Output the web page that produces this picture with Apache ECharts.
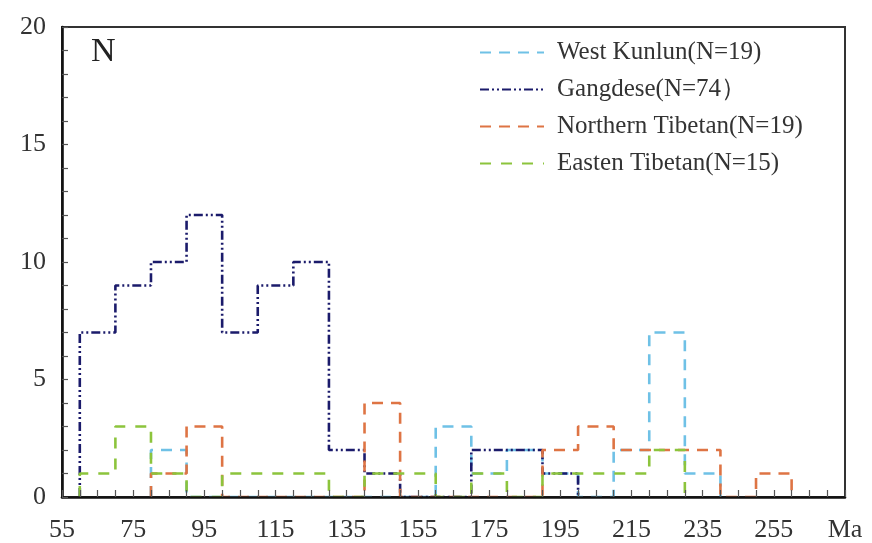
<!DOCTYPE html>
<html>
<head>
<meta charset="utf-8">
<script src="https://cdn.jsdelivr.net/npm/echarts@6/dist/echarts.min.js"></script>
<style>
  html, body { margin: 0; padding: 0; background: #fff; }
  #chart { width: 872px; height: 543px; }
</style>
</head>
<body>
<div id="chart"></div>
<script>
// bin starts (Ma), each bin is 10 Ma wide
const binStarts = [60, 70, 80, 90, 100, 110, 120, 130, 140, 150, 160, 170, 180, 190, 200, 210, 220, 230, 240, 250, 260];
const binWidth = 10;

const westKunlun     = [0, 0, 2, 0, 0, 0, 0, 0, 0, 0, 3, 1, 2, 1, 0, 2, 7, 1, 0, 0, 0];
const gangdese       = [7, 9, 10, 12, 7, 9, 10, 2, 1, 0, 0, 2, 2, 1, 0, 0, 0, 0, 0, 0, 0];
const northernTibet  = [0, 0, 1, 3, 0, 0, 0, 0, 4, 0, 0, 0, 0, 2, 3, 2, 2, 2, 0, 1, 0];
const eastenTibet    = [1, 3, 1, 0, 1, 1, 1, 0, 1, 1, 0, 1, 0, 1, 1, 1, 2, 0, 0, 0, 0];

const seriesNames = ['West Kunlun(N=19)', 'Gangdese(N=74\uFF09', 'Northern Tibetan(N=19)', 'Easten Tibetan(N=15)'];

const serif = '"Liberation Serif", "Times New Roman", serif';

// step outline of a histogram, trimmed to the first / last non-empty bin
function stepPoints(counts) {
    let first = counts.findIndex(v => v > 0);
    let last = counts.length - 1;
    while (last > 0 && counts[last] === 0) last--;
    let pts = [[binStarts[first], 0]];
    for (let i = first; i <= last; i++) {
        pts.push([binStarts[i], counts[i]]);
    }
    let end = binStarts[last] + binWidth;
    pts.push([end, counts[last]]);
    pts.push([end, 0]);
    return pts;
}

function histSeries(name, counts, color, dash) {
    return {
        name: name,
        type: 'line',
        step: 'end',
        data: stepPoints(counts),
        symbol: 'none',
        showSymbol: false,
        animation: false,
        lineStyle: {color: color, width: 2.6, type: dash},
        itemStyle: {color: color}
    };
}

let chart = echarts.init(document.getElementById('chart'), null, {renderer: 'canvas'});

chart.setOption({
    animation: false,
    backgroundColor: '#fff',
    title: {
        text: 'N',
        left: 86,
        top: 30,
        textStyle: {fontFamily: serif, fontSize: 34, fontWeight: 'normal', color: '#222'}
    },
    grid: {
        left: 62, top: 27, width: 783, height: 470,
        show: true, borderColor: '#333', borderWidth: 2
    },
    legend: {
        orient: 'vertical',
        left: 474,
        top: 35,
        itemWidth: 64,
        itemHeight: 14,
        itemGap: 12,
        itemStyle: {opacity: 0},
        textStyle: {fontFamily: serif, fontSize: 25, color: '#333', padding: [0, 0, 0, 8]},
        data: seriesNames
    },
    xAxis: {
        type: 'value',
        min: 55,
        max: 275,
        interval: 5,
        z: 10,
        splitLine: {show: false},
        axisLine: {lineStyle: {color: '#111', width: 2.6}},
        axisTick: {inside: true, length: 7, lineStyle: {color: '#555', width: 1.2}},
        axisLabel: {
            fontFamily: serif, fontSize: 26, color: '#333', margin: 20,
            showMinLabel: true, showMaxLabel: true,
            formatter: v => {
                if (v === 275) return 'Ma';
                return (v - 55) % 20 === 0 ? String(v) : '';
            }
        }
    },
    yAxis: {
        type: 'value',
        min: 0,
        max: 20,
        interval: 1,
        z: 10,
        splitLine: {show: false},
        axisLine: {show: true, lineStyle: {color: '#111', width: 2.6}},
        axisTick: {inside: true, length: 6, lineStyle: {color: '#555', width: 1.2}},
        axisLabel: {
            fontFamily: serif, fontSize: 26, color: '#333', margin: 16,
            formatter: v => (v % 5 === 0 ? String(v) : '')
        }
    },
    series: [
        histSeries(seriesNames[0], westKunlun, '#6fc1e6', [11, 8]),
        histSeries(seriesNames[1], gangdese, '#1b1b6b', [9, 3, 2, 3, 2, 3]),
        histSeries(seriesNames[2], northernTibet, '#de7444', [11, 8]),
        histSeries(seriesNames[3], eastenTibet, '#8cc43c', [11, 10])
    ]
});
</script>
</body>
</html>
